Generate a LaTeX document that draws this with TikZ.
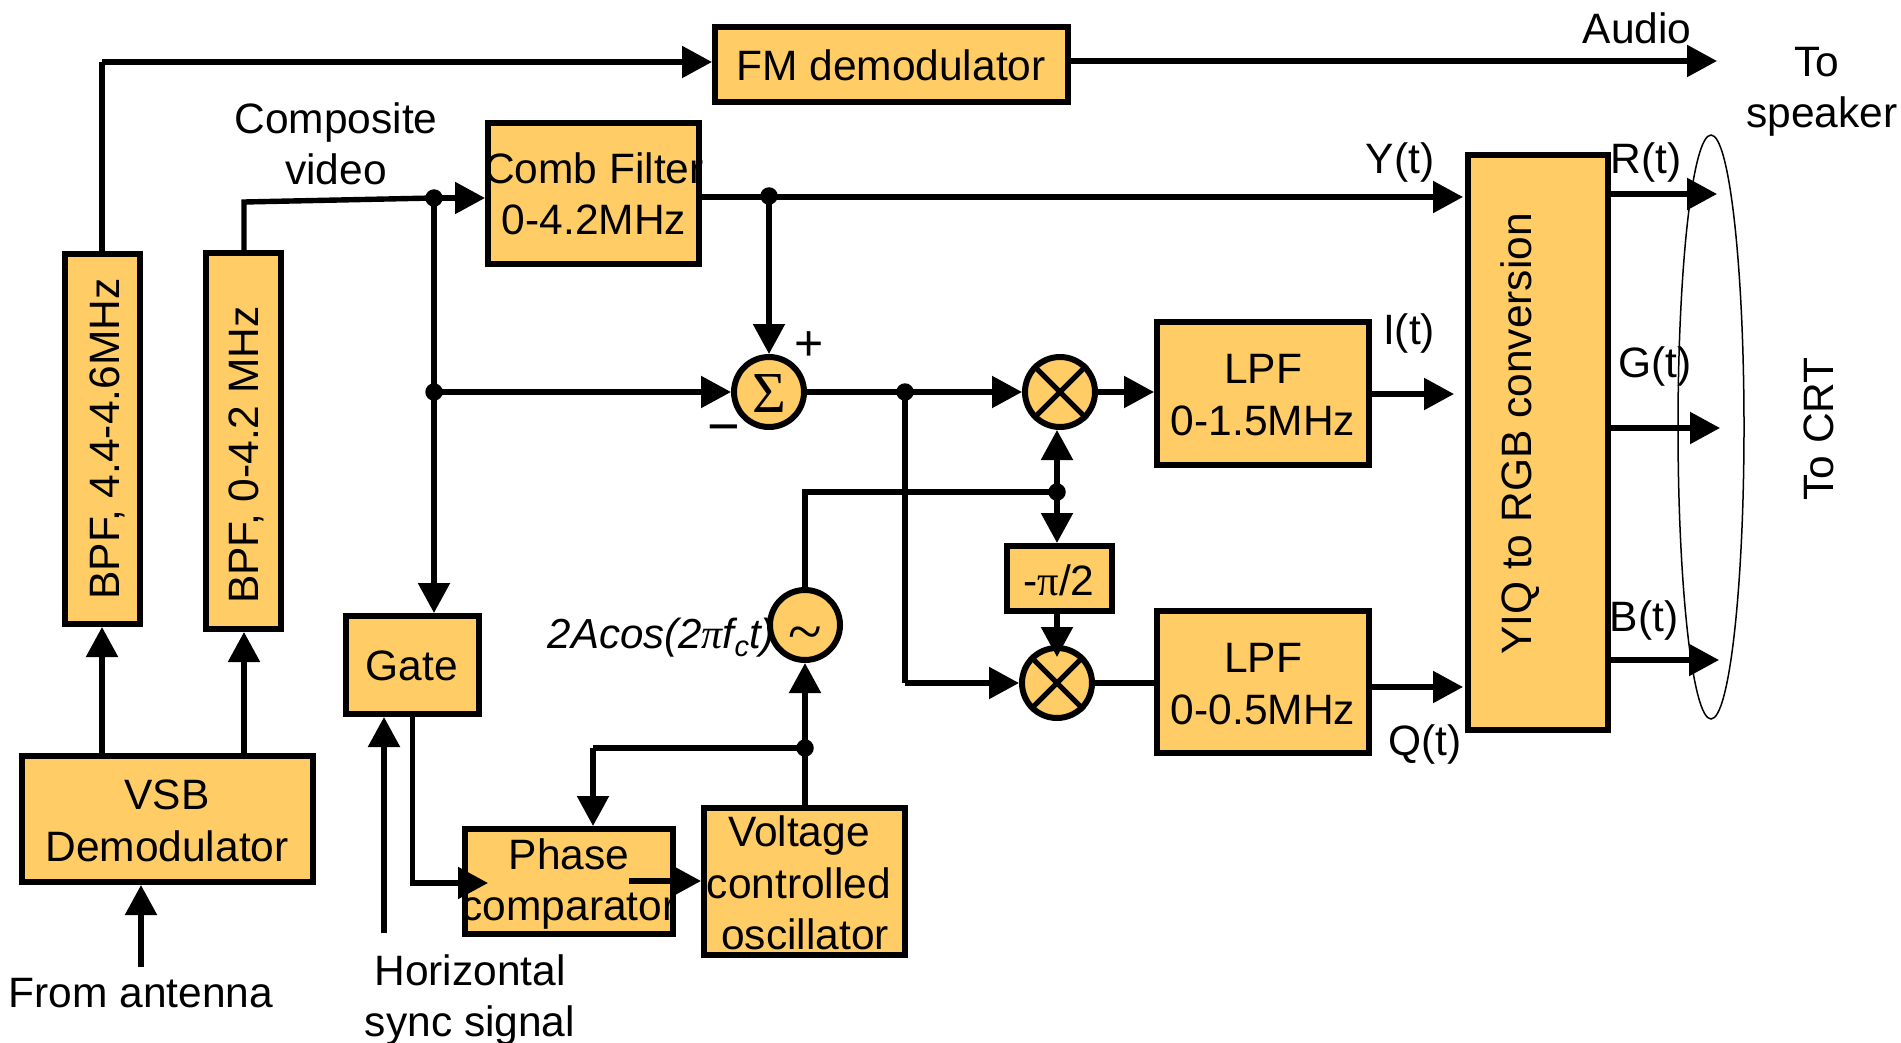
\documentclass[tikz,border=0pt]{standalone}
\usepackage{fontspec}
\setmainfont{Liberation Sans}
\newfontfamily\grfont{Liberation Serif}
\usetikzlibrary{arrows.meta}
\definecolor{blockfill}{RGB}{255,204,102}
\tikzset{
  boxnode/.style={draw=black,fill=blockfill,line width=6pt,inner sep=0pt,rectangle},
  txt/.style={inner sep=0pt,align=center,font=\fontsize{42.5}{51.5}\selectfont},
  conn/.style={line width=5.4pt},
  arr/.style={line width=5.4pt,-{Triangle[length=30pt,width=31pt]}},
  dotnode/.style={circle,fill=black,inner sep=0pt,minimum size=17.5pt},
  ringnode/.style={circle,draw=black,fill=blockfill,line width=6pt,inner sep=0pt,minimum size=70pt},
  crossline/.style={line width=5pt}
}
\newcommand{\blk}[5]{%
  \pgfmathsetmacro\blkcx{(#2+#4)/2}%
  \pgfmathsetmacro\blkcy{(#3+#5)/2}%
  \pgfmathsetmacro\blkw{#4-#2-4}%
  \pgfmathsetmacro\blkh{#5-#3-4}%
  \node[boxnode,minimum width=\blkw pt,minimum height=\blkh pt] (#1) at (\blkcx,\blkcy) {};}
\begin{document}
\begin{tikzpicture}[x=1pt,y=-1pt]
\useasboundingbox (0,0) rectangle (1901,1043);
% blocks
\blk{fm}{713}{25}{1070}{104}
\blk{comb}{486}{121}{701}{266}
\blk{bpfa}{63}{252}{142}{626}
\blk{bpfb}{204}{251}{283}{631}
\blk{gate}{344}{614}{481}{716}
\blk{vsb}{20}{754}{315}{884}
\blk{phase}{463}{827}{675}{936}
\blk{vco}{702}{806}{907}{957}
\blk{lpfa}{1155}{320}{1371}{467}
\blk{lpfb}{1155}{609}{1371}{755}
\blk{shift}{1005}{544}{1114}{613}
\blk{yiq}{1466}{153}{1610}{732}
\node[ringnode] (sum) at (769,392) {};
\node[ringnode] (mixa) at (1060,392) {};
\node[ringnode] (mixb) at (1057,683) {};
\node[ringnode] (osc) at (805,625) {};
\draw[crossline] (mixa.45) -- (mixa.225) (mixa.135) -- (mixa.-45);
\draw[crossline] (mixb.45) -- (mixb.225) (mixb.135) -- (mixb.-45);
% ellipse
\draw[line width=1.5pt] (1711,427) ellipse [x radius=33,y radius=292];
% block text
\node[txt] (tfm) at (891,65) {FM demodulator};
\node[txt] (tcomb) at (594,194) {Comb Filter\\0-4.2MHz};
\node[txt,rotate=90] (tbpfa) at (107,439) {BPF, 4.4-4.6MHz};
\node[txt,rotate=90] (tbpfb) at (246,455) {BPF, 0-4.2 MHz};
\node[txt] (tgate) at (412,666) {Gate};
\node[txt] (tvsb) at (167,821) {VSB\\Demodulator};
\node[txt] (tphase) at (569,884) {Phase\\comparator};
\node[txt] (tvco) at (799,883) {Voltage\\controlled\\\hspace*{12pt}oscillator};
\node[txt] (tlpfa) at (1263,395) {LPF\\0-1.5MHz};
\node[txt] (tlpfb) at (1263,684) {LPF\\0-0.5MHz};
\node[txt,rotate=90] (tyiq) at (1520,434) {YIQ to RGB conversion};
\node[txt] (tshift) at (1059,580) {-{\grfont π}/2};
\node[txt,font=\fontsize{58}{50}\grfont] (tsum) at (769,394) {Σ};
\node[txt,font=\fontsize{62}{50}\grfont] (tosc) at (805,640) {\symbol{"007E}};
% free labels
\node[txt] (taudio) at (1637,28) {Audio};
\node[txt] (tspk) at (1822,92) {To\hspace*{10pt}\\speaker};
\node[txt] (tcomp) at (336,144) {Composite\\video};
\node[txt] (ty) at (1400,163) {Y(t)};
\node[txt] (tr) at (1646,163) {R(t)};
\node[txt] (ti) at (1409,334) {I(t)};
\node[txt] (tg) at (1655,367) {G(t)};
\node[txt] (tb) at (1644,620) {B(t)};
\node[txt] (tq) at (1425,744) {Q(t)};
\node[txt,rotate=90] (tcrt) at (1819,429) {To CRT};
\node[txt,font=\fontsize{50}{50}\selectfont] (tplus) at (809,346) {+};
\node[txt,font=\fontsize{56}{50}\selectfont] (tminus) at (724,435) {−};
\node[txt] (tant) at (141,993) {From antenna};
\node[txt] (thor) at (470,1000) {Horizontal\\sync signal};
\node[txt,anchor=base east,font=\fontsize{42}{48}\selectfont\itshape] (tcos) at (775,648) {2Acos(2{\grfont π}f\raisebox{-8pt}{\fontsize{29}{30}\selectfont c}t)};
% junctions
\node[dotnode] (ja) at (434,198) {};
\node[dotnode] (jb) at (434,392) {};
\node[dotnode] (jc) at (769,196) {};
\node[dotnode] (jd) at (905,392) {};
\node[dotnode] (je) at (1057,492) {};
\node[dotnode] (jf) at (805,748) {};
% free ends
\coordinate (fmin) at (102,62);
\coordinate (fmout) at (1717,61);
\coordinate (compa) at (244,202);
\coordinate (ant) at (141,967);
\coordinate (hsync) at (384,933);
\coordinate (phin) at (488,883);
\coordinate (phout) at (629,881);
\coordinate (fbk) at (593,748);
\coordinate (ocor) at (805,492);
\coordinate (qcor) at (905,683);
\coordinate (shdn) at (1057,657);
\coordinate (iout) at (1454,394);
\coordinate (qout) at (1463,687);
\coordinate (yout) at (1463,197);
\coordinate (rout) at (1717,194);
\coordinate (gout) at (1720,428);
\coordinate (bout) at (1719,660);
% connectors
\draw[arr] (ant) -- (ant |- vsb.south);
\draw[arr] (vsb.north -| fmin) -- (fmin |- bpfa.south);
\draw[arr] (vsb.north -| compa) -- (compa |- bpfb.south);
\draw[conn] (bpfa.north -| fmin) -- (fmin);
\draw[arr] (fmin) -- (fmin -| fm.west);
\draw[arr] (fm.east |- fmout) -- (fmout);
\draw[conn] (bpfb.north -| compa) -- (compa) -- (ja.center);
\draw[arr] (ja.center) -- (ja -| comb.west);
\draw[conn] (ja.center) -- (jb.center);
\draw[arr] (jb.center) -- (gate.north -| jb);
\draw[arr] (jb.center) -- (sum.west);
\draw[arr] (comb.east |- yout) -- (yout);
\draw[arr] (jc.center) -- (sum.north);
\draw[conn] (sum.east) -- (jd.center);
\draw[arr] (jd.center) -- (mixa.west);
\draw[conn] (jd.center) -- (qcor);
\draw[arr] (qcor) -- (mixb.west);
\draw[arr] (mixa.east) -- (lpfa.west |- mixa);
\draw[conn] (mixb.east) -- (lpfb.west |- mixb);
\draw[arr] (lpfa.east |- iout) -- (iout);
\draw[arr] (lpfb.east |- qout) -- (qout);
\draw[arr] (yiq.east |- rout) -- (rout);
\draw[arr] (yiq.east |- gout) -- (gout);
\draw[arr] (yiq.east |- bout) -- (bout);
\draw[conn] (osc.north) -- (ocor) -- (je.center);
\draw[arr] (je.center) -- (mixa.south -| je);
\draw[arr] (je.center) -- (shift.north -| je);
\draw[arr] (shift.south -| shdn) -- (shdn);
\draw[conn] (vco.north -| jf) -- (jf.center);
\draw[arr] (jf.center) -- (osc.south);
\draw[conn] (jf.center) -- (fbk);
\draw[arr] (fbk) -- (fbk |- phase.north);
\draw[arr] (hsync) -- (hsync |- gate.south);
\draw[arr] (gate.south) |- (phin);
\draw[arr] (phout) -- (phout -| vco.west);
\end{tikzpicture}
\end{document}
